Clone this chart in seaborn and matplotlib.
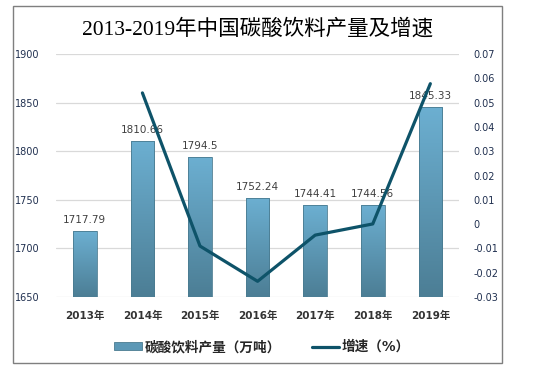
import numpy as np
import pandas as pd
import matplotlib
matplotlib.use('Agg')
import matplotlib.pyplot as plt
import seaborn as sns
from matplotlib.patches import Patch, Rectangle
from matplotlib.lines import Line2D
from matplotlib.colors import LinearSegmentedColormap

# data
years = ['2013年', '2014年', '2015年', '2016年', '2017年', '2018年', '2019年']
output = [1717.79, 1810.66, 1794.5, 1752.24, 1744.41, 1744.56, 1845.33]
growth_years = ['2014年', '2015年', '2016年', '2017年', '2018年', '2019年']
growth = [0.054, -0.009, -0.0235, -0.0045, 0.0001, 0.0578]
left_ticks = [1650, 1700, 1750, 1800, 1850, 1900]
right_ticks = [-0.03, -0.02, -0.01, 0, 0.01, 0.02, 0.03, 0.04, 0.05, 0.06, 0.07]

sns.set_theme(style='white')
plt.rcParams['font.family'] = ['DejaVu Sans', 'Noto Sans CJK SC']
plt.rcParams['axes.unicode_minus'] = False

bar_top = '#6cafd1'
bar_bottom = '#4c7e95'
line_color = '#0e5369'
tick_color = '#1f2f4f'

fig = plt.figure(figsize=(5.44, 3.70), dpi=100)
ax = fig.add_axes([0.103, 0.197, 0.741, 0.657])

df = pd.DataFrame({'year': years, 'output': output})
sns.barplot(data=df, x='year', y='output', color=bar_top, width=0.41,
            edgecolor='#4a7b90', linewidth=0.6, ax=ax, zorder=2)

# vertical gradient inside each bar
cmap = LinearSegmentedColormap.from_list('bars', [bar_bottom, bar_top])
grad = np.linspace(0, 1, 100).reshape(-1, 1)
for p in ax.patches:
    x0, y0 = p.get_x(), 1650
    w, h = p.get_width(), p.get_height()
    im = ax.imshow(grad, cmap=cmap, aspect='auto', origin='lower',
                   extent=[x0, x0 + w, y0, h], zorder=2.5)
    im.set_clip_path(p)
    p.set_facecolor('none')
    p.set_zorder(3)

ax.set_ylim(1650, 1900)
ax.set_xlim(-0.5, 6.5)
ax.set_yticks(left_ticks)
ax.set_yticklabels([str(t) for t in left_ticks], fontsize=7, color=tick_color)
ax.set_xticks(range(len(years)))
ax.set_xticklabels(years, fontsize=7.5, fontweight='bold', color='#333333')
ax.tick_params(axis='x', pad=10, length=0)
ax.tick_params(axis='y', pad=12, length=0)
ax.set_xlabel('')
ax.set_ylabel('')
ax.grid(axis='y', color='#d9d9d9', linewidth=0.9, zorder=0)
ax.set_axisbelow(True)
for s in ax.spines.values():
    s.set_visible(False)

for p, v in zip(ax.patches, output):
    ax.text(p.get_x() + p.get_width() / 2, v + 6, f'{v:g}', ha='center', va='bottom',
            fontsize=7.5, color='#404040', zorder=4)

ax2 = ax.twinx()
gdf = pd.DataFrame({'pos': [years.index(y) for y in growth_years], 'growth': growth})
sns.lineplot(data=gdf, x='pos', y='growth', color=line_color, linewidth=2.3, ax=ax2)
ax2.set_ylim(-0.03, 0.07)
ax2.set_yticks(right_ticks)
ax2.set_yticklabels(['0' if t == 0 else f'{t:.2f}' for t in right_ticks],
                    fontsize=7, color=tick_color)
ax2.tick_params(axis='y', pad=10, length=0)
ax2.set_ylabel('')
ax2.set_xlabel('')
ax2.set_xlim(-0.5, 6.5)
for s in ax2.spines.values():
    s.set_visible(False)

fig.text(0.473, 0.922, '2013-2019年中国碳酸饮料产量及增速', ha='center', va='center',
         fontsize=15.5, family=['Liberation Serif', 'Noto Sans CJK SC'], color='black')

handles = [Patch(facecolor='#5c98b6', edgecolor='#4a7b90', linewidth=0.6),
           Line2D([0], [0], color=line_color, linewidth=2.3)]
labels = ['碳酸饮料产量（万吨）', '增速（%）']
fig.legend(handles, labels, loc='center', bbox_to_anchor=(0.482, 0.062), ncol=2,
           frameon=False, prop={'size': 9.8, 'weight': 'bold'}, handlelength=2.0,
           handleheight=0.5, handletextpad=0.2, columnspacing=2.3)

fig.patches.append(Rectangle((12.5 / 544, 1 - 363 / 370), (502 - 12.5) / 544, (363 - 5.5) / 370,
                             transform=fig.transFigure, fill=False, edgecolor='#7f7f7f',
                             linewidth=1.0))

fig.savefig('out.png', dpi=100)
